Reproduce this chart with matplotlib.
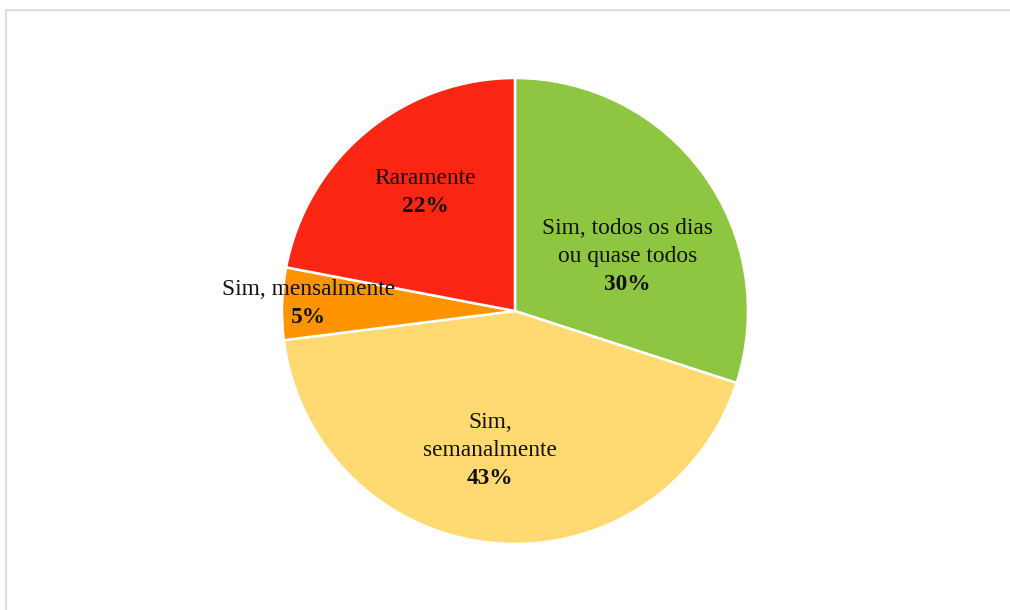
import matplotlib.pyplot as plt
from matplotlib.lines import Line2D

# survey answers, clockwise from 12 o'clock
labels = ['Sim, todos os dias\nou quase todos', 'Sim,\nsemanalmente',
          'Sim, mensalmente', 'Raramente']
shares = [30, 43, 5, 22]
colors = ['#8fc641', '#ffd971', '#ff9400', '#fc2614']

# centre of the first line of each label block, in pie units
label_pos = [(0.483, 0.354), (-0.107, -0.479), (-0.887, 0.092), (-0.386, 0.568)]
line_step = 0.12

plt.rcParams['font.family'] = ['Liberation Serif', 'DejaVu Serif']

fig = plt.figure(figsize=(10.1, 6.1), dpi=100)
ax = fig.add_axes([282 / 1010, 66 / 610, 466 / 1010, 466 / 610])

ax.pie(shares, colors=colors, startangle=90, counterclock=False, radius=1,
       wedgeprops=dict(edgecolor='white', linewidth=1.8))
ax.set_xlim(-1, 1)
ax.set_ylim(-1, 1)
ax.set_aspect('equal')
ax.axis('off')

for name, val, (x, y) in zip(labels, shares, label_pos):
    lines = name.split('\n')
    for i, line in enumerate(lines):
        ax.text(x, y - i * line_step, line, ha='center', va='center',
                fontsize=16.8, color='#111111')
    ax.text(x, y - len(lines) * line_step, '{}%'.format(val), ha='center',
            va='center', fontsize=16.8, fontweight='bold', color='#111111')

# light frame round the chart area
fig.add_artist(Line2D([6 / 1010, 1], [1 - 9.5 / 610] * 2, transform=fig.transFigure,
                      color='#d9d9d9', lw=1.2))
fig.add_artist(Line2D([6 / 1010] * 2, [0, 1 - 9.5 / 610], transform=fig.transFigure,
                      color='#d9d9d9', lw=1.2))

fig.savefig('out.png', dpi=100, facecolor='white')
